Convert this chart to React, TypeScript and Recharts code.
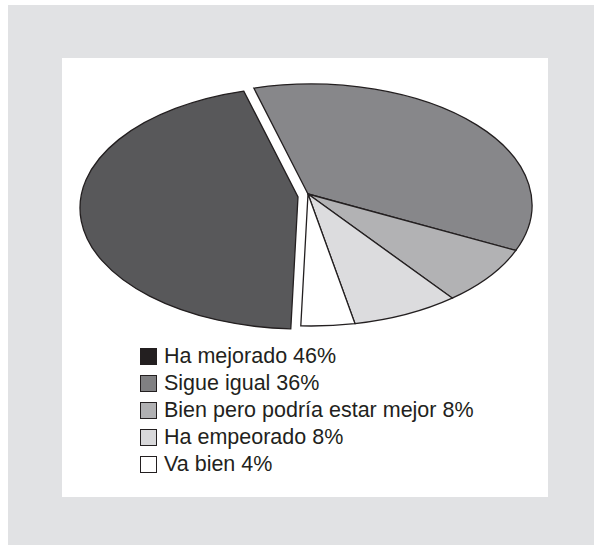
import { Legend, Pie, PieChart } from "recharts";

// slices in clockwise order starting from the top
const labels = ["Sigue igual", "Bien pero podría estar mejor", "Ha empeorado", "Va bien", "Ha mejorado"];
const values = [36, 8, 8, 4, 46];
const pieColors = ["#87878a", "#b2b2b4", "#dcdcde", "#ffffff", "#58585a"];

// legend order as printed
const legendLabels = ["Ha mejorado 46%", "Sigue igual 36%", "Bien pero podría estar mejor 8%", "Ha empeorado 8%", "Va bien 4%"];
const legendColors = ["#231f20", "#808082", "#b0b0b2", "#d8d8da", "#ffffff"];

const EXPLODED = "Ha mejorado";
const STRETCH = 221 / 121;
const RAD = Math.PI / 180;

const data = labels.map((name, i) => ({ name, value: values[i], fill: pieColors[i] }));

function EllipseSlice(props: any) {
  const { cx, cy, outerRadius, startAngle, endAngle, fill, stroke } = props;
  const name = props.name ?? props.payload?.name;
  const ox = name === EXPLODED ? -10 : 0;
  const oy = name === EXPLODED ? 3 : 0;
  const rx = outerRadius * STRETCH;
  const ry = outerRadius;
  const pt = (a: number) => [cx + ox + rx * Math.cos(a * RAD), cy + oy - ry * Math.sin(a * RAD)];
  const [x1, y1] = pt(startAngle);
  const [x2, y2] = pt(endAngle);
  const large = Math.abs(endAngle - startAngle) > 180 ? 1 : 0;
  const sweep = startAngle > endAngle ? 1 : 0;
  const ax = cx + ox - 3;
  const ay = cy + oy - 11;
  const d = `M${ax},${ay} L${x1},${y1} A${rx},${ry} 0 ${large} ${sweep} ${x2},${y2} Z`;
  return <path d={d} fill={fill} stroke={stroke} strokeWidth={1.3} strokeLinejoin="miter" />;
}

function LegendList() {
  return (
    <div>
      {legendLabels.map((label, i) => (
        <div key={label} style={{ display: "flex", alignItems: "center", height: 27 }}>
          <span
            style={{
              width: 15,
              height: 15,
              background: legendColors[i],
              border: "1px solid #231f20",
              marginRight: 7,
              flex: "none",
            }}
          />
          <span>{label}</span>
        </div>
      ))}
    </div>
  );
}

export default function App() {
  return (
    <div
      style={{
        position: "absolute",
        left: 0,
        top: 0,
        width: 594,
        height: 545,
        fontFamily: "'Liberation Sans', Arial, sans-serif",
        color: "#231f20",
      }}
    >
      <div style={{ position: "absolute", left: 8, top: 5, right: 0, bottom: 0, background: "#e1e2e4" }} />
      <div style={{ position: "absolute", left: 62, top: 58, width: 486, height: 439, background: "#ffffff" }} />
      <div style={{ position: "absolute", left: 0, top: 0 }}>
        <PieChart width={594} height={545} margin={{ top: 0, right: 0, bottom: 0, left: 0 }}>
          <Pie
            data={data}
            dataKey="value"
            nameKey="name"
            cx={311}
            cy={205}
            outerRadius={121}
            startAngle={105}
            endAngle={-255}
            stroke="#231f20"
            shape={EllipseSlice}
            activeShape={EllipseSlice}
            inactiveShape={EllipseSlice}
            isAnimationActive={false}
          />
          <Legend
            content={<LegendList />}
            wrapperStyle={{ position: "absolute", left: 140, top: 343, width: 380, fontSize: 21.5, lineHeight: "27px" }}
          />
        </PieChart>
      </div>
    </div>
  );
}
